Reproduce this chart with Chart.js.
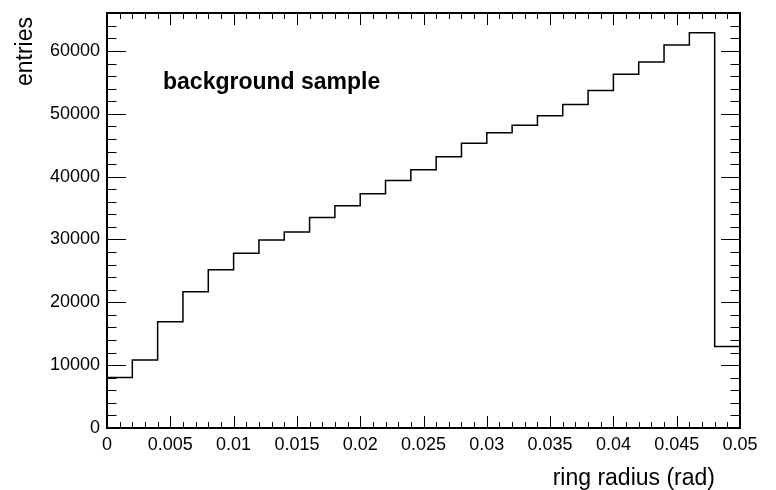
<!DOCTYPE html>
<html>
<head>
<meta charset="utf-8">
<script src="https://cdn.jsdelivr.net/npm/chart.js@4/dist/chart.umd.min.js"></script>
<style>
html, body { margin: 0; padding: 0; background: #fff; }
#wrap { width: 776px; height: 490px; }
</style>
</head>
<body>
<div id="wrap"><canvas id="histo"></canvas></div>
<script>
// Histogram data (25 bins of 0.002 rad)
const xMin = 0;
const xMax = 0.05;
const binWidth = 0.002;
const entries = [8050, 10810, 16900, 21700, 25200, 27800, 29900, 31200, 33500, 35350,
                 37260, 39400, 41100, 43150, 45300, 47000, 48200, 49700, 51500, 53700,
                 56300, 58250, 60960, 62900, 12980];
const yMax = 66045;

// Axis ticks
const xTicks = [0, 0.005, 0.01, 0.015, 0.02, 0.025, 0.03, 0.035, 0.04, 0.045, 0.05];
const xTickLabels = ['0', '0.005', '0.01', '0.015', '0.02', '0.025', '0.03', '0.035', '0.04', '0.045', '0.05'];
const yTicks = [0, 10000, 20000, 30000, 40000, 50000, 60000];
const yTickLabels = ['0', '10000', '20000', '30000', '40000', '50000', '60000'];
const xMinorStep = 0.001;
const yMinorStep = 2000;

const fontFamily = '"Liberation Sans", Arial, Helvetica, sans-serif';

// step points: left edge of every bin, plus closing point at xMax
const points = entries.map((v, i) => ({ x: xMin + i * binWidth, y: v }));
points.push({ x: xMax, y: entries[entries.length - 1] });

// ROOT-like frame, inner ticks and texts
const rootFrame = {
    id: 'rootFrame',
    afterDraw(chart) {
        const ctx = chart.ctx;
        const a = chart.chartArea;
        const xs = chart.scales.x;
        const ys = chart.scales.y;
        ctx.save();
        ctx.strokeStyle = '#000';

        // ticks
        ctx.lineWidth = 1;
        ctx.beginPath();
        for (let k = 0; k <= Math.round((xMax - xMin) / xMinorStep); k++) {
            const v = xMin + k * xMinorStep;
            const px = Math.round(xs.getPixelForValue(v)) + 0.5;
            const len = (k % 5 === 0) ? 12 : 6;
            ctx.moveTo(px, a.bottom); ctx.lineTo(px, a.bottom - len);
            ctx.moveTo(px, a.top); ctx.lineTo(px, a.top + len);
        }
        for (let v = 0; v <= yMax; v += yMinorStep) {
            const py = Math.round(ys.getPixelForValue(v)) + 0.5;
            const len = (v % 10000 === 0) ? 19 : 9.5;
            ctx.moveTo(a.left, py); ctx.lineTo(a.left + len, py);
            ctx.moveTo(a.right, py); ctx.lineTo(a.right - len, py);
        }
        ctx.stroke();

        // frame
        ctx.lineWidth = 2;
        ctx.strokeRect(a.left, a.top, a.right - a.left, a.bottom - a.top);

        // titles
        ctx.fillStyle = '#000';
        ctx.font = '23px ' + fontFamily;
        ctx.textAlign = 'right';
        ctx.textBaseline = 'alphabetic';
        ctx.fillText('ring radius (rad)', 715, 485);

        ctx.save();
        ctx.translate(32, 17);
        ctx.rotate(-Math.PI / 2);
        ctx.fillText('entries', 0, 0);
        ctx.restore();

        ctx.font = 'bold 23px ' + fontFamily;
        ctx.textAlign = 'left';
        ctx.fillText('background sample', 163, 89);
        ctx.restore();
    }
};

new Chart(document.getElementById('histo'), {
    type: 'line',
    data: {
        datasets: [{
            data: points,
            stepped: 'before',
            borderColor: '#000',
            borderWidth: 1.5,
            pointRadius: 0,
            fill: false
        }]
    },
    options: {
        responsive: true,
        maintainAspectRatio: false,
        animation: false,
        layout: { padding: { left: 0, top: 13, right: 36, bottom: 0 } },
        plugins: { legend: { display: false }, tooltip: { enabled: false } },
        scales: {
            x: {
                type: 'linear',
                min: xMin,
                max: xMax,
                grid: { display: false, drawTicks: false },
                border: { display: false },
                afterBuildTicks: s => { s.ticks = xTicks.map(v => ({ value: v })); },
                afterFit: s => { s.height = 62; s.paddingLeft = 0; s.paddingRight = 0; },
                ticks: {
                    autoSkip: false,
                    maxRotation: 0,
                    padding: 6,
                    color: '#000',
                    font: { family: fontFamily, size: 18 },
                    callback: (v, i) => xTickLabels[i]
                }
            },
            y: {
                min: 0,
                max: yMax,
                grid: { display: false, drawTicks: false },
                border: { display: false },
                afterBuildTicks: s => { s.ticks = yTicks.map(v => ({ value: v })); },
                afterFit: s => { s.width = 107; s.paddingTop = 0; s.paddingBottom = 0; },
                ticks: {
                    autoSkip: false,
                    padding: 7,
                    color: '#000',
                    font: { family: fontFamily, size: 18 },
                    callback: (v, i) => yTickLabels[i]
                }
            }
        }
    },
    plugins: [rootFrame]
});
</script>
</body>
</html>
